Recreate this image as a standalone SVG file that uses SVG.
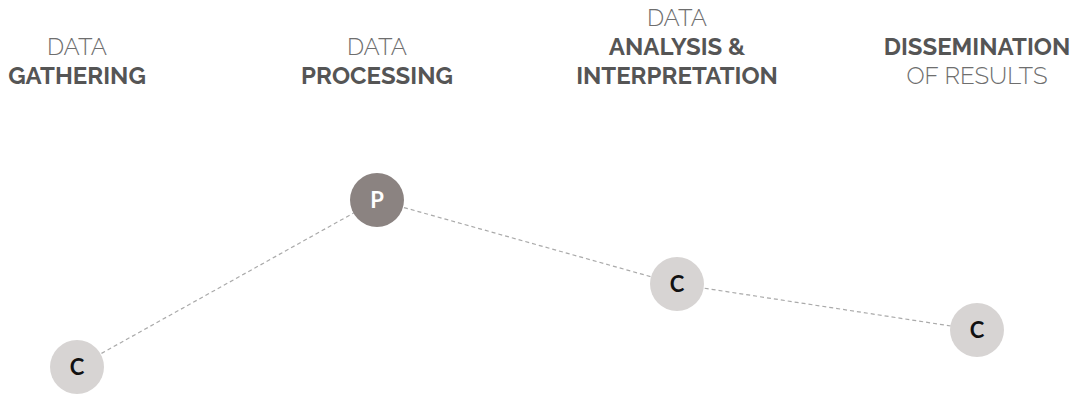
<svg xmlns="http://www.w3.org/2000/svg" width="1083" height="395" viewBox="0 0 1083 395">
<style>
.lt{font-family:"Raleway","Lato","Liberation Sans",sans-serif;font-weight:300;font-size:24px;fill:#6e6e6e;text-anchor:middle}
.bd{font-family:"Raleway","Lato","Liberation Sans",sans-serif;font-weight:700;font-size:24px;fill:#555;text-anchor:middle}
.c{fill:#d7d4d3}
.p{fill:#8b8381}
.ct{font-family:"Lato","Liberation Sans",sans-serif;font-weight:700;font-size:22px;fill:#111;text-anchor:middle}
.pt{font-family:"Lato","Liberation Sans",sans-serif;font-weight:700;font-size:22px;fill:#fff;text-anchor:middle}
.ln{stroke:#aaa;stroke-width:1.2;stroke-dasharray:4 3;fill:none}
</style>
<g id="labels">
<text class="lt" x="77" y="55">DATA</text>
<text class="bd" x="77" y="84">GATHERING</text>
<text class="lt" x="377" y="55">DATA</text>
<text class="bd" x="377" y="84">PROCESSING</text>
<text class="lt" x="677" y="26">DATA</text>
<text class="bd" x="677" y="55">ANALYSIS &amp;</text>
<text class="bd" x="677" y="84">INTERPRETATION</text>
<text class="bd" x="977" y="55">DISSEMINATION</text>
<text class="lt" x="977" y="84">OF RESULTS</text>
</g>
<g id="connectors">
<line class="ln" x1="77" y1="367" x2="377" y2="200"/>
<line class="ln" x1="377" y1="200" x2="677" y2="284"/>
<line class="ln" x1="677" y1="284" x2="977" y2="330"/>
</g>
<g id="node1"><circle class="c" cx="77" cy="367" r="27"/><text class="ct" x="77" y="375">C</text></g>
<g id="node2"><circle class="p" cx="377" cy="200" r="27"/><text class="pt" x="377" y="208">P</text></g>
<g id="node3"><circle class="c" cx="677" cy="284" r="27"/><text class="ct" x="677" y="292">C</text></g>
<g id="node4"><circle class="c" cx="977" cy="330" r="27"/><text class="ct" x="977" y="338">C</text></g>
</svg>
